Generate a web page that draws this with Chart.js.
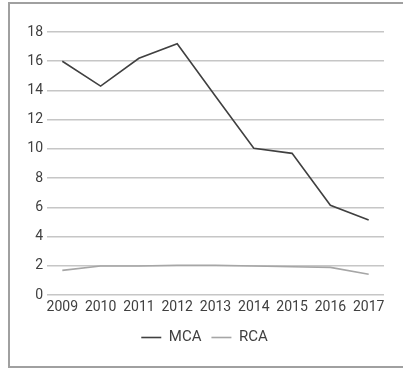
<!DOCTYPE html>
<html>
<head>
<meta charset="utf-8">
<script src="https://cdn.jsdelivr.net/npm/chart.js@4/dist/chart.umd.min.js"></script>
<style>
  html, body { margin: 0; padding: 0; background: #fff; overflow: hidden; }
  #frame { position: absolute; left: 8px; top: 2px; width: 420px; height: 362px; border: 2px solid #a0a0a0; }
  #wrap { position: absolute; left: 0; top: 0; width: 403px; height: 369px; }
</style>
</head>
<body>
<div id="frame"></div>
<div id="wrap"><canvas id="chart" width="403" height="369"></canvas></div>
<script>
// Values
const years = ["2009", "2010", "2011", "2012", "2013", "2014", "2015", "2016", "2017"];
const mcaValues = [16.0, 14.3, 16.2, 17.2, 13.6, 10.05, 9.7, 6.15, 5.15];
const rcaValues = [1.7, 2.0, 2.0, 2.05, 2.05, 2.0, 1.95, 1.9, 1.43];
const yTicks = [0, 2, 4, 6, 8, 10, 12, 14, 16, 18];

const toPoints = vals => vals.map((v, i) => ({ x: i, y: v }));

const ctx = document.getElementById("chart").getContext("2d");

new Chart(ctx, {
  type: "line",
  data: {
    datasets: [{
      label: "MCA",
      data: toPoints(mcaValues),
      borderColor: "#404040",
      backgroundColor: "#404040",
      borderWidth: 1.6,
      pointRadius: 0,
      tension: 0
    }, {
      label: "RCA",
      data: toPoints(rcaValues),
      borderColor: "#a6a6a6",
      backgroundColor: "#a6a6a6",
      borderWidth: 1.6,
      pointRadius: 0,
      tension: 0
    }]
  },
  options: {
    responsive: false,
    animation: false,
    layout: {
      padding: { left: 25, right: 19, top: 32, bottom: 14 }
    },
    scales: {
      x: {
        type: "linear",
        min: -0.4,
        max: years.length - 1 + 0.4,
        afterBuildTicks: axis => { axis.ticks = years.map((_, i) => ({ value: i })); },
        grid: { display: false, drawTicks: false },
        border: { display: false },
        ticks: {
          padding: 4,
          color: "#404040",
          font: { family: "Roboto", size: 14 },
          maxRotation: 0,
          autoSkip: false,
          callback: value => years[value]
        }
      },
      y: {
        min: 0,
        max: 18,
        afterBuildTicks: axis => { axis.ticks = yTicks.map(v => ({ value: v })); },
        afterFit: scale => { scale.width = 22; },
        grid: { color: "#c6c6c6", lineWidth: 1.5, drawTicks: false },
        border: { display: false },
        ticks: {
          padding: 4,
          color: "#404040",
          font: { family: "Roboto", size: 14 }
        }
      }
    },
    plugins: {
      legend: {
        position: "bottom",
        labels: {
          usePointStyle: true,
          pointStyleWidth: 20,
          pointStyle: "line",
          padding: 10,
          color: "#404040",
          font: { family: "Roboto", size: 15 }
        }
      },
      tooltip: { enabled: false }
    }
  }
});
</script>
</body>
</html>
